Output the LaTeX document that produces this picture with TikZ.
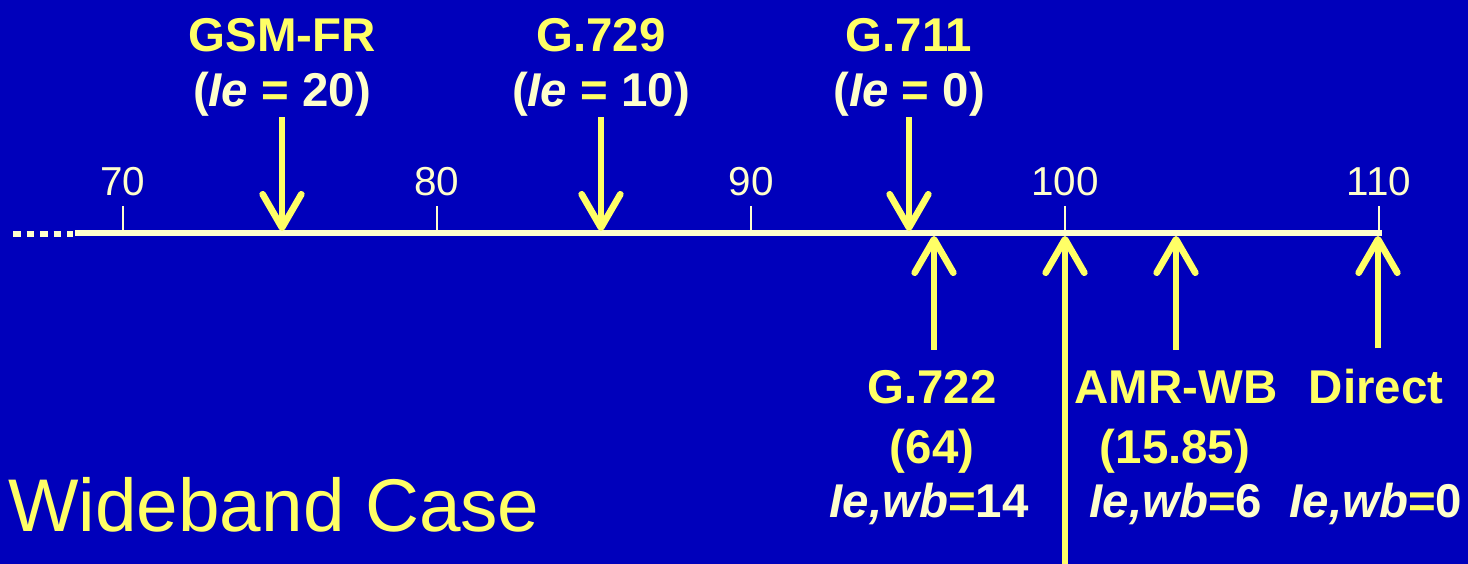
\documentclass[tikz,border=0pt]{standalone}
\usepackage{fontspec}
\setmainfont{Liberation Sans}
\usetikzlibrary{arrows.meta,positioning}
\definecolor{bgblue}{HTML}{0000BB}
\definecolor{hlyellow}{HTML}{FFFF66}
\definecolor{paleyel}{HTML}{FFFFCC}

\begin{document}
\begin{tikzpicture}[x=0.02cm, y=-0.02cm,
  nm/.style={anchor=base, inner sep=0pt, text=hlyellow, font=\fontsize{27}{32}\selectfont\bfseries},
  ie/.style={anchor=base, inner sep=0pt, text=paleyel, font=\fontsize{27}{32}\selectfont\bfseries},
  num/.style={anchor=base, inner sep=0pt, text=paleyel, font=\fontsize{23}{28}\selectfont},
  tickln/.style={paleyel, line width=1.6pt},
  darr/.style={hlyellow, line width=3.8pt, -{Straight Barb[length=19pt, width=22pt, round]}},
  uarr/.style={darr, shorten <=0.4cm}
]
  \fill[bgblue] (0,0) rectangle (1468,564);
  \useasboundingbox (0,0) rectangle (1468,564);

  % axis
  \coordinate (axl) at (75,233);
  \coordinate (axr) at (1382,233);
  \draw[paleyel, line width=3.4pt, dash pattern=on 4.5pt off 3.2pt] (13,234) -- (73,234);
  \draw[paleyel, line width=3.4pt] (axl) -- (axr);

  \node[num] (t70) at (123,196) {70};
  \node[num] (t80) at (437,196) {80};
  \node[num] (t90) at (751,196) {90};
  \node[num] (t100) at (1065,196) {100};
  \node[num] (t110) at (1379,196) {110};
  \draw[tickln] (123,206) -- (123,233);
  \draw[tickln] (437,206) -- (437,233);
  \draw[tickln] (751,206) -- (751,233);
  \draw[tickln] (1065,206) -- (1065,233);
  \draw[tickln] (1379,206) -- (1379,233);

  % narrowband codecs
  \node[nm] (gsm) at (282,52) {GSM-FR};
  \node[ie] (gsmie) at (282,107) {(\textit{Ie} \textcolor{hlyellow}{=} 20)};
  \node[nm] (g729) at (601,52) {G.729};
  \node[ie] (g729ie) at (601,107) {(\textit{Ie} \textcolor{hlyellow}{=} 10)};
  \node[nm] (g711) at (909,52) {G.711};
  \node[ie] (g711ie) at (909,107) {(\textit{Ie} \textcolor{hlyellow}{=} 0)};

  \coordinate (hitgsm) at (282,231);
  \coordinate (hit729) at (601,231);
  \coordinate (hit711) at (909,231);
  \draw[darr] (gsmie.south) -- (hitgsm);
  \draw[darr] (g729ie.south) -- (hit729);
  \draw[darr] (g711ie.south) -- (hit711);

  % wideband codecs
  \node[nm] (g722) at (932,403) {G.722};
  \node[nm] (g722r) at (932,463) {(64)};
  \node[ie] (g722ie) at (929,517) {\textit{Ie,wb}\textcolor{hlyellow}{=}14};
  \node[nm] (amr) at (1176,403) {AMR-WB};
  \node[nm] (amrr) at (1175,463) {(15.85)};
  \node[ie] (amrie) at (1176,517) {\textit{Ie,wb}\textcolor{hlyellow}{=}6};
  \node[nm] (dir) at (1376,403) {Direct};
  \node[ie] (dirie) at (1376,517) {\textit{Ie,wb}\textcolor{hlyellow}{=}0};

  \coordinate (hit722) at (934,236);
  \coordinate (hitamr) at (1176,236);
  \coordinate (hitdir) at (1378,236);
  \coordinate (low100) at (1065,564);
  \coordinate (hit100) at (1065,236);
  \draw[uarr] (g722.north -| hit722) -- (hit722);
  \draw[uarr] (amr.north) -- (hitamr);
  \draw[uarr] (dir.north -| hitdir) -- (hitdir);
  \draw[darr] (low100) -- (hit100);

  \node[anchor=base west, inner sep=0pt, text=hlyellow, font=\fontsize{42.5}{48}\selectfont] (title) at (8,531) {Wideband Case};
\end{tikzpicture}
\end{document}
